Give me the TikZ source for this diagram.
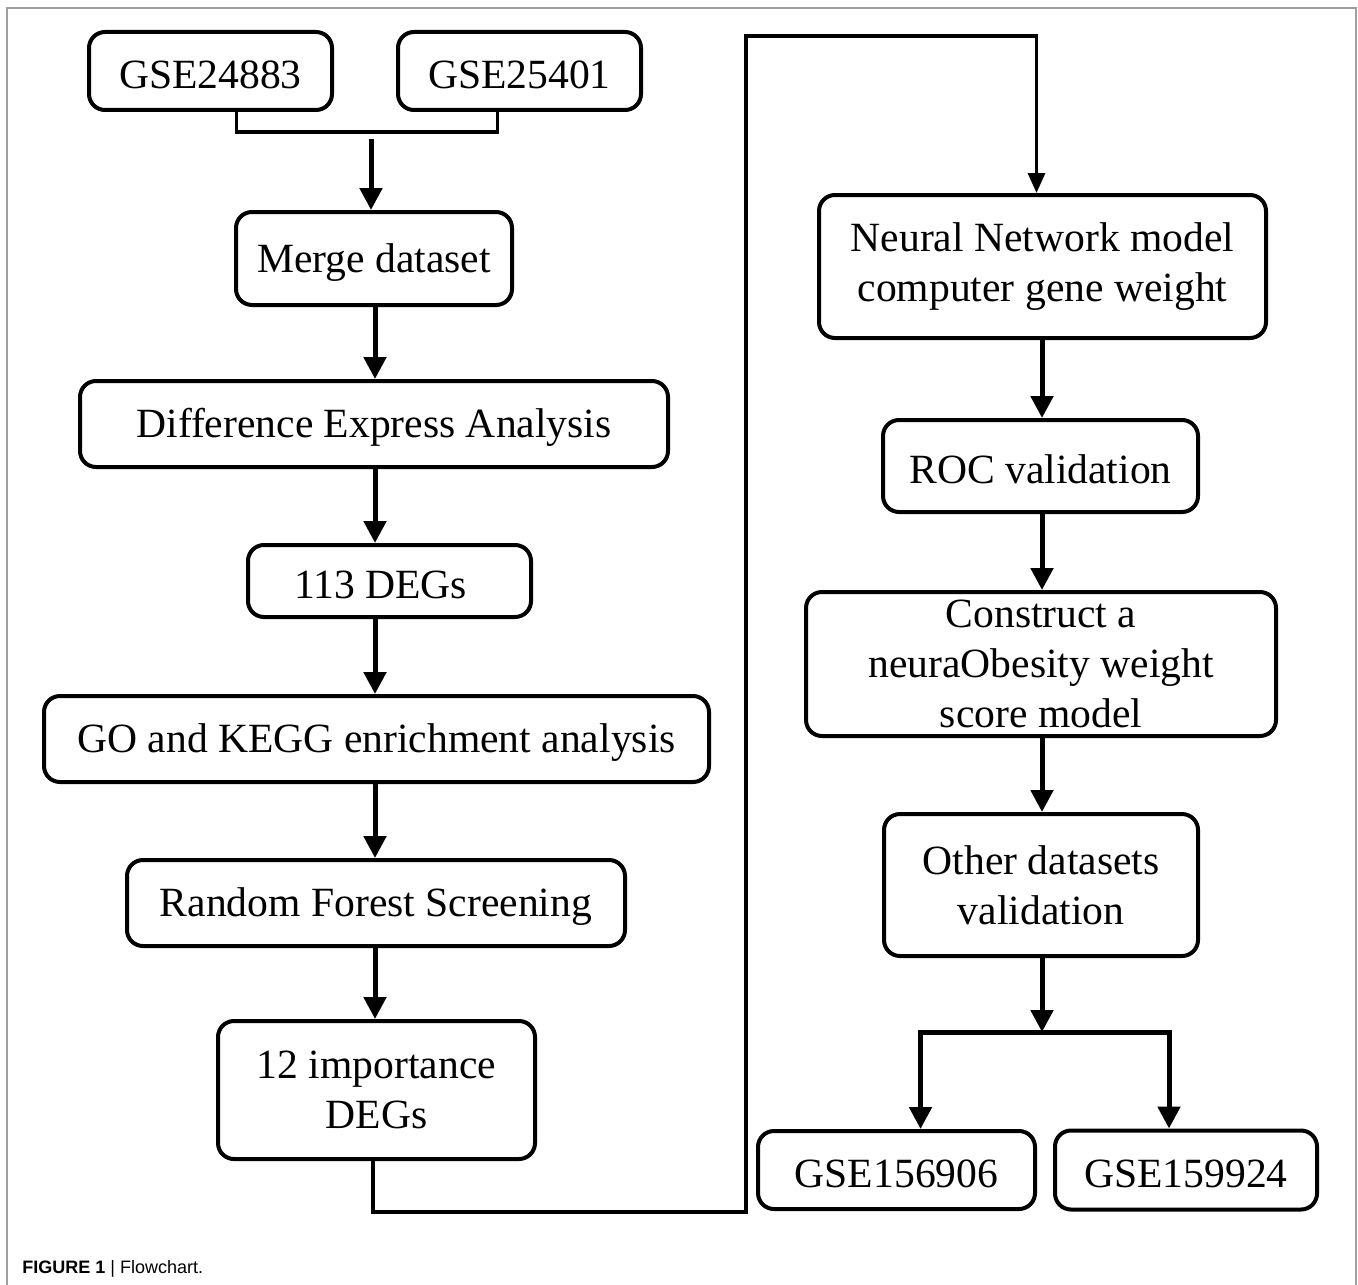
\documentclass[tikz,border=0pt]{standalone}
\usepackage{fontspec}
\setmainfont{Liberation Serif}
\setsansfont{Liberation Sans}
\usetikzlibrary{positioning, arrows.meta}

\tikzset{
  box/.style={draw, line width=2pt, rounded corners=8pt, align=center, inner sep=0pt,
    font=\fontsize{20.8}{25}\selectfont, execute at begin node={\rule{0pt}{18pt}}},
  arr/.style={line width=2.5pt, -{Triangle[length=11pt,width=11pt]}},
  link/.style={line width=1.8pt},
}

\begin{document}
\begin{tikzpicture}[x=0.5pt,y=-0.5pt]
\useasboundingbox (0,0) rectangle (1358,1284);
\draw[gray!75, line width=1pt] (7,1300) -- (7,8) -- (1356,8) -- (1356,1300);

% left column
\node[box, minimum width=121.5pt, minimum height=39pt] (gsea) at (210.5,71) {GSE24883};
\node[box, minimum width=121.5pt, minimum height=39pt] (gseb) at (519.5,71) {GSE25401};
\node[box, minimum width=138pt, minimum height=46.5pt] (merge) at (374,258.5) {Merge dataset};
\node[box, minimum width=294pt, minimum height=43pt] (diff) at (374,424) {Difference Express Analysis};
\node[box, minimum width=141.5pt, minimum height=36pt] (degs) at (389.5,581) {113 DEGs\hspace{9pt}};
\node[box, minimum width=332.5pt, minimum height=43pt] (enrich) at (376.5,739) {GO and KEGG enrichment analysis};
\node[box, minimum width=249pt, minimum height=43pt] (forest) at (376,903) {Random Forest Screening};
\node[box, minimum width=158.5pt, minimum height=69pt] (imp) at (376.5,1090) {12 importance\\DEGs};

% right column
\node[box, minimum width=223.5pt, minimum height=71.5pt] (nn) at (1042.5,266.5) {Neural Network model\\computer gene weight};
\node[box, minimum width=157.5pt, minimum height=46pt] (roc) at (1040.5,466) {ROC validation};
\node[box, minimum width=235pt, minimum height=72pt] (cons) at (1041,664) {Construct a\\neuraObesity weight\\score model};
\node[box, minimum width=157pt, minimum height=71pt] (other) at (1041,885) {Other datasets\\validation};
\node[box, minimum width=138.5pt, minimum height=39pt] (va) at (896.5,1170) {GSE156906};
\node[box, minimum width=131pt, minimum height=39.5pt] (vb) at (1186,1170) {GSE159924};

\coordinate (lc) at (375,0);
\coordinate (rc) at (1042,0);
\coordinate (join) at (371,139);
\coordinate (low) at (746,1212);
\coordinate (high) at (746,36);
\coordinate (split) at (1042,1032);

% connectors
\draw[link] ([xshift=13pt]gsea.south) -- ++(0,20) -| ([xshift=-11pt]gseb.south);
\draw[arr] (join) -- (join |- merge.north);
\foreach \a/\b in {merge/diff, diff/degs, degs/enrich, enrich/forest, forest/imp}
  \draw[arr] (\a.south -| lc) -- (\b.north -| lc);
\draw[link, line width=1.6pt, -{Triangle[length=10pt,width=8.5pt]}]
  ([xshift=-1.75pt]imp.south) |- (low) -- (high) -| ([xshift=-3pt]nn.north);
\foreach \a/\b in {nn/roc, roc/cons, cons/other}
  \draw[arr] (\a.south -| rc) -- (\b.north -| rc);
\draw[arr] (other.south -| rc) -- (split);
\draw[arr] (split) -| ([xshift=12pt]va.north);
\draw[arr] (split) -| ([xshift=-8.5pt]vb.north);

\node[anchor=base west, inner sep=0pt, font=\sffamily\fontsize{9}{11}\selectfont] (cap) at (22,1273)
  {\textbf{FIGURE 1} | Flowchart.};
\end{tikzpicture}
\end{document}
